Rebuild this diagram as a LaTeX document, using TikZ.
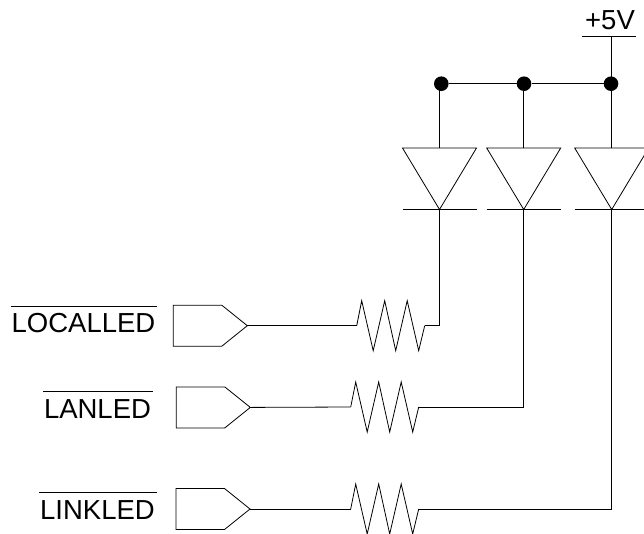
\documentclass[tikz,border=0pt]{standalone}
\usepackage{fontspec}
\setmainfont{Liberation Sans}
\usepackage{tikz}
\usetikzlibrary{positioning}
\tikzstyle{wire} = [draw=black, line width=0.8pt]
\tikzstyle{junction} = [circle, fill=black, inner sep=0pt, minimum size=14.6pt]
\tikzstyle{signal} = [inner sep=0pt, anchor=base, font=\fontsize{27.5}{30}\selectfont]
\newcommand{\sigbar}[1]{$\overline{\rule{0pt}{25.5pt}\kern1pt\mbox{#1}\kern2pt}$}
\tikzset{
    diode/.pic={
        \coordinate (-top) at (0,0);
        \coordinate (-apex) at (0,61.5);
        \draw [wire] (-37,0) -- (37,0) -- (-apex) -- cycle;
        \draw [wire] (-37,61.5) -- (37,61.5);
    },
    resistor/.pic={
        \coordinate (-in) at (0,0);
        \coordinate (-out) at (68,0);
        \draw [wire] (-in) -- (5,-25) -- (16.5,25) -- (28,-25) -- (39,25) -- (50.5,-25) -- (62,25) -- (-out);
    },
    driver/.pic={
        \coordinate (-tip) at (74,20.5);
        \draw [wire] (0,0) -- (48.5,0) -- (-tip) -- (48.5,41) -- (0,41) -- cycle;
    }
}
\begin{document}
\begin{tikzpicture}[x=1pt, y=-1pt]
    \clip (0,0) rectangle (644,533);
    \node [signal] (vcc) at (610,29) {+5V};
    \coordinate (vccbar) at (611.7,36.7);
    \node [junction] (dotlocal) at (441.3,83.7) {};
    \node [junction] (dotlan) at (524,83.7) {};
    \node [junction] (dotlink) at (611,83.7) {};
    \pic (dlocal) at (439.5,148) {diode};
    \pic (dlan) at (523.7,148) {diode};
    \pic (dlink) at (611.7,148) {diode};
    \pic (rlocal) at (356.7,325.7) {resistor};
    \pic (rlan) at (350.7,407) {resistor};
    \pic (rlink) at (350.7,509) {resistor};
    \pic (blocal) at (173.3,305.2) {driver};
    \pic (blan) at (176.3,386.9) {driver};
    \pic (blink) at (176,488.5) {driver};
    \node [signal] (local) at (84,332.7) {\sigbar{LOCALLED}};
    \node [signal] (lan) at (98,418) {\sigbar{LANLED}};
    \node [signal] (link) at (98,519.3) {\sigbar{LINKLED}};
    \draw [wire] (582.3,36.7) -- (635.7,36.7);
    \draw [wire] (vccbar) -- (dlink-top);
    \draw [wire] (dotlocal) -- (dotlan);
    \draw [wire] (dotlan) -- (dotlink);
    \draw [wire] (dlocal-top |- dotlocal) -- (dlocal-top);
    \draw [wire] (dlan-top |- dotlan) -- (dlan-top);
    \draw [wire] (dlocal-apex) |- (rlocal-out);
    \draw [wire] (dlan-apex) |- (rlan-out);
    \draw [wire] (dlink-apex) |- (rlink-out);
    \draw [wire] (blocal-tip) -- (rlocal-in);
    \draw [wire] (blan-tip) -- (rlan-in);
    \draw [wire] (blink-tip) -- (rlink-in);
\end{tikzpicture}
\end{document}
